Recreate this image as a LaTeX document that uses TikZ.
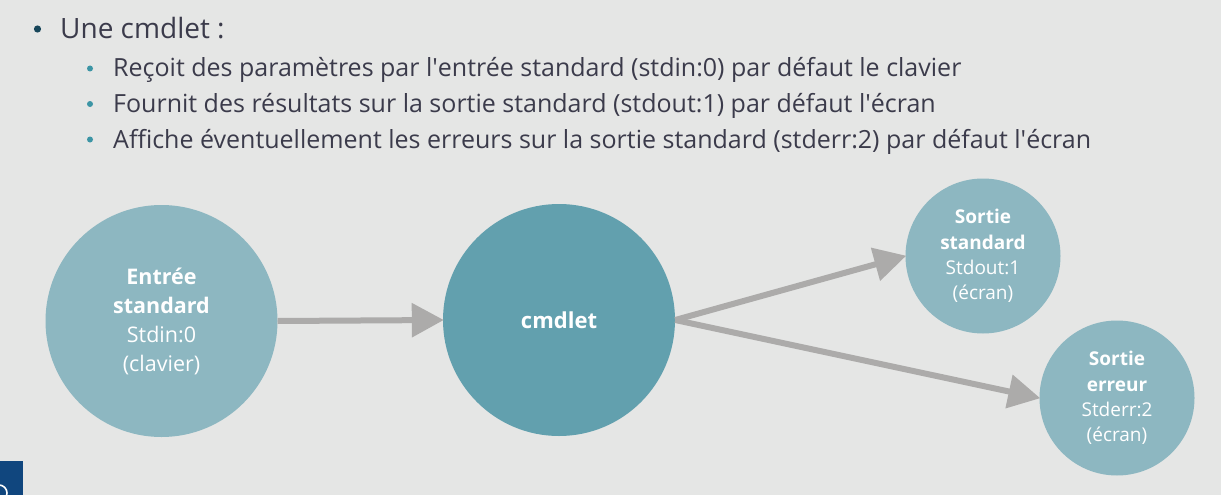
\documentclass[tikz,border=0pt]{standalone}
\usepackage{fontspec}
\setmainfont{Open Sans}
\usetikzlibrary{arrows.meta}
\definecolor{bg}{HTML}{E5E6E5}
\definecolor{outerc}{HTML}{8DB7C1}
\definecolor{innerc}{HTML}{62A0AE}
\definecolor{arrowc}{HTML}{ACABAA}
\definecolor{txt}{HTML}{3B3B4B}
\definecolor{bull}{HTML}{17465A}
\definecolor{subbull}{HTML}{3C95A5}
\definecolor{logo}{HTML}{10467E}
\tikzset{
  stream/.style={circle, fill=outerc, inner sep=0pt, text=white, align=center},
  bigstream/.style={stream, minimum size=232pt, font=\fontsize{21.5}{29}\selectfont},
  smallstream/.style={stream, minimum size=155pt, font=\fontsize{19}{25.3}\selectfont},
  flow/.style={draw=arrowc, line width=6pt, -{Triangle[length=32pt,width=33pt]}, shorten >=-1pt},
  maintext/.style={anchor=base west, text=txt, inner sep=0pt, font=\fontsize{28}{32}\selectfont},
  subtext/.style={anchor=base west, text=txt, inner sep=0pt, font=\fontsize{25}{28}\selectfont},
}
\begin{document}
\begin{tikzpicture}[x=1pt, y=-1pt]
\useasboundingbox (0,0) rectangle (1221,495);
\fill[bg] (0,0) rectangle (1221,495);

% bullets and texts
\fill[bull] (37.5,29) circle (3.6pt);
\node[maintext] (t0) at (60,39) {Une cmdlet :};
\fill[subbull] (90,68.5) circle (3pt);
\fill[subbull] (90,104) circle (3pt);
\fill[subbull] (90,139.5) circle (3pt);
\node[subtext] (t1) at (113,77) {Reçoit des paramètres par l\textquotesingle entrée standard (stdin:0) par défaut le clavier};
\node[subtext] (t2) at (113,112.5) {Fournit des résultats sur la sortie standard (stdout:1) par défaut l\textquotesingle écran};
\node[subtext] (t3) at (113,148) {Affiche éventuellement les erreurs sur la sortie standard (stderr:2) par défaut l\textquotesingle écran};

% circles
\node[bigstream] (in) at (161.5,321) {\textbf{Entrée}\\\textbf{standard}\\Stdin:0\\(clavier)};
\node[bigstream, fill=innerc, font=\fontsize{22}{29}\selectfont\bfseries] (cmd) at (559,320) {cmdlet};
\node[smallstream] (out) at (983,256) {\textbf{Sortie}\\\textbf{standard}\\Stdout:1\\(écran)};
\node[smallstream] (err) at (1117,398) {\textbf{Sortie}\\\textbf{erreur}\\Stderr:2\\(écran)};

% arrows
\draw[flow] (in.east) -- (cmd.west);
\draw[flow] (cmd.east) -- (out.west);
\draw[flow] (cmd.east) -- (err.west);

% logo fragment
\begin{scope}
\clip (0,461) rectangle (23,495);
\fill[logo] (0,461) rectangle (23,495);
\draw[white, line width=1.6pt] (-1,493) circle (8pt);
\end{scope}
\end{tikzpicture}
\end{document}
